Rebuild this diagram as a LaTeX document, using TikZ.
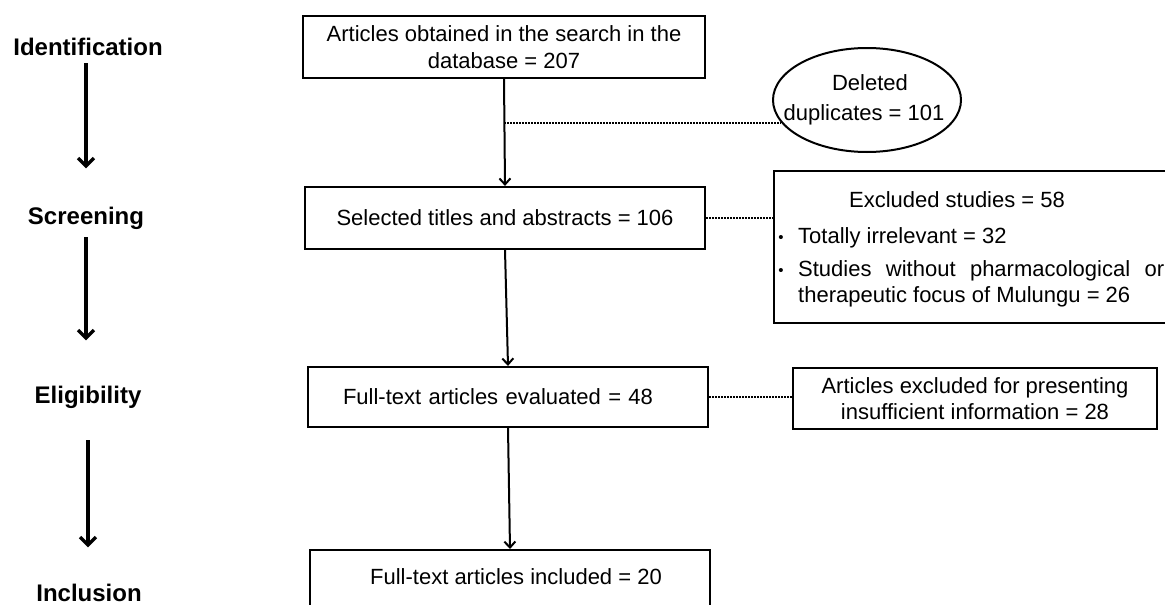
\documentclass[tikz,border=0pt]{standalone}
\usepackage{fontspec}
\setmainfont{Liberation Sans}
\usetikzlibrary{shapes.geometric,arrows.meta,calc}
\begin{document}
\begin{tikzpicture}[x=1pt,y=-1pt,
  every node/.style={font=\fontsize{22}{26.4}\selectfont},
  box/.style={draw, line width=2.2pt, rectangle, inner sep=0pt, align=center},
  lab/.style={font=\fontsize{24}{28}\selectfont\bfseries, inner sep=0pt, anchor=base},
  txt/.style={inner sep=0pt, anchor=base west},
  bul/.style={inner sep=0pt, anchor=base, font=\fontsize{15}{18}\selectfont},
  arr/.style={line width=2pt, -{Straight Barb[length=6pt,width=11pt,line width=2pt]}},
  bigarr/.style={line width=3.4pt, -{Straight Barb[length=8pt,width=16pt,line width=3.4pt]}},
  dotline/.style={line width=2pt, dash pattern=on 1.5pt off 1.5pt}]
\useasboundingbox (0,0) rectangle (1165,605);
\clip (0,0) rectangle (1165,605);

% stage labels
\node[lab] (id)  at (88,55)  {Identification};
\node[lab] (scr) at (86,224) {Screening};
\node[lab] (eli) at (88,403) {Eligibility};
\node[lab] (inc) at (89,601) {Inclusion};

\draw[bigarr] ([yshift=-8pt]scr.north |- id.south) -- ([yshift=38pt]scr.north);
\draw[bigarr] ([yshift=-8pt]scr.south) -- ([yshift=45pt]scr.south |- eli.north);
\draw[bigarr] ([yshift=-32pt]eli.south) -- ([yshift=36pt]eli.south |- inc.north);

% main boxes
\node[box, minimum width=402pt, minimum height=62pt] (b1) at (504,47)
  {Articles obtained in the search in the\\database = 207};
\node[box, minimum width=400pt, minimum height=62pt] (b2) at (505,218)
  {Selected titles and abstracts = 106};
\node[box, minimum width=400pt, minimum height=60pt, text width=330pt,
  inner xsep=35pt, align=left] (b3) at (508,397)
  {Full-text articles evaluated = 48};
\node[box, minimum width=400pt, minimum height=70pt, anchor=north] (b4) at (510,549) {};
\node[inner sep=0pt] (t4) at (516,577) {Full-text articles included = 20};

% side boxes
\node[ellipse, draw, line width=2pt, minimum width=188pt, minimum height=104pt,
  inner sep=0pt] (el) at (867,100) {};
\node[inner sep=0pt, anchor=base] (el1) at (870,90) {Deleted};
\node[inner sep=0pt, anchor=base] (el2) at (864,120) {duplicates = 101};

\node[box, minimum width=420pt, minimum height=152pt, anchor=north west] (exc) at (773,170) {};
\node[inner sep=0pt, anchor=base] (e0) at (957,207) {Excluded studies = 58};
\node[bul] (e1b) at (781,242) {\textbullet};
\node[txt] (e1) at (798,243) {Totally irrelevant = 32};
\node[bul] (e2b) at (781,275) {\textbullet};
\node[txt] (e2) at (798,276) {\hbox to 366pt{Studies\hfill without\hfill pharmacological\hfill or}};
\node[txt] (e3) at (798,302) {therapeutic focus of Mulungu = 26};

\node[box, minimum width=364pt, minimum height=61pt] (ins) at (975,398.5)
  {Articles excluded for presenting\\insufficient information = 28};

% connectors
\draw[arr] (b1.south) -- (b2.north);
\draw[arr] (b2.south) -- (b3.north);
\draw[arr] (b3.south) -- (b4.north);

\coordinate (d1) at (b1.south |- el.195);
\draw[dotline] (d1) -- (el.195);
\draw[dotline] (b2.east) -- (b2.east -| exc.west);
\draw[dotline] (b3.east) -- (b3.east -| ins.west);
\end{tikzpicture}
\end{document}
